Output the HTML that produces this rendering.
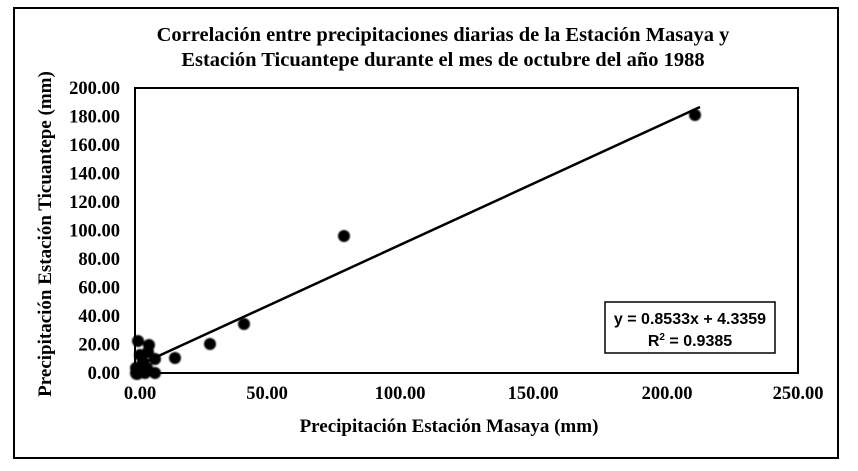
<!DOCTYPE html>
<html><head><meta charset="utf-8"><style>
body{margin:0;background:#fff}
svg{display:block}
.s{font-family:"Liberation Serif",serif;font-weight:bold;fill:#000}
</style></head><body>
<svg width="858" height="471" xmlns="http://www.w3.org/2000/svg">
<defs><filter id="b" x="-50%" y="-50%" width="200%" height="200%"><feGaussianBlur stdDeviation="0.8"/></filter></defs>
<rect x="14" y="8" width="824" height="450" fill="#fff" stroke="#000" stroke-width="2"/>
<text class="s" x="443" y="41" font-size="20.5" text-anchor="middle">Correlación entre precipitaciones diarias de la Estación Masaya y</text>
<text class="s" x="443" y="66" font-size="20.5" text-anchor="middle">Estación Ticuantepe durante el mes de octubre del año 1988</text>
<rect x="135" y="88" width="663" height="285" fill="none" stroke="#000" stroke-width="2"/>
<g class="s" font-size="18.5" text-anchor="end">
<text x="120" y="379">0.00</text><text x="120" y="350.5">20.00</text><text x="120" y="322">40.00</text><text x="120" y="293.5">60.00</text><text x="120" y="265">80.00</text><text x="120" y="236.5">100.00</text><text x="120" y="208">120.00</text><text x="120" y="179.5">140.00</text><text x="120" y="151">160.00</text><text x="120" y="122.5">180.00</text><text x="120" y="94">200.00</text>
</g>
<g class="s" font-size="18.5" text-anchor="middle">
<text x="140" y="399">0.00</text><text x="267" y="399">50.00</text><text x="400" y="399">100.00</text><text x="533" y="399">150.00</text><text x="667" y="399">200.00</text><text x="798" y="399">250.00</text>
</g>
<text class="s" x="449" y="432" font-size="19" text-anchor="middle">Precipitación Estación Masaya (mm)</text>
<text class="s" font-size="19" text-anchor="middle" transform="translate(51,234) rotate(-90)">Precipitación Estación Ticuantepe (mm)</text>
<line x1="135" y1="366.8" x2="700" y2="107" stroke="#000" stroke-width="2.5"/>
<g fill="#000" filter="url(#b)">
<circle cx="695" cy="115" r="6"/><circle cx="344" cy="236" r="6"/><circle cx="244" cy="324" r="6"/><circle cx="210" cy="344" r="6"/><circle cx="175" cy="358" r="6"/><circle cx="155" cy="359" r="6"/><circle cx="155" cy="373" r="6"/><circle cx="149" cy="345" r="6"/><circle cx="148" cy="352" r="6"/><circle cx="138" cy="341" r="6"/><circle cx="140" cy="355" r="6"/><circle cx="143" cy="362" r="6"/><circle cx="147" cy="368" r="6"/><circle cx="137" cy="373" r="7"/><circle cx="140" cy="370" r="7"/><circle cx="136" cy="368" r="6"/><circle cx="145" cy="373" r="6"/>
</g>
<rect x="605" y="302" width="170" height="51" fill="#fff" stroke="#000" stroke-width="1.5"/>
<text x="690" y="324" font-family="Liberation Sans,sans-serif" font-weight="bold" font-size="16" text-anchor="middle">y = 0.8533x + 4.3359</text>
<text x="690" y="346" font-family="Liberation Sans,sans-serif" font-weight="bold" font-size="16" text-anchor="middle">R<tspan font-size="10" dy="-6">2</tspan><tspan dy="6"> = 0.9385</tspan></text>
</svg>
</body></html>
